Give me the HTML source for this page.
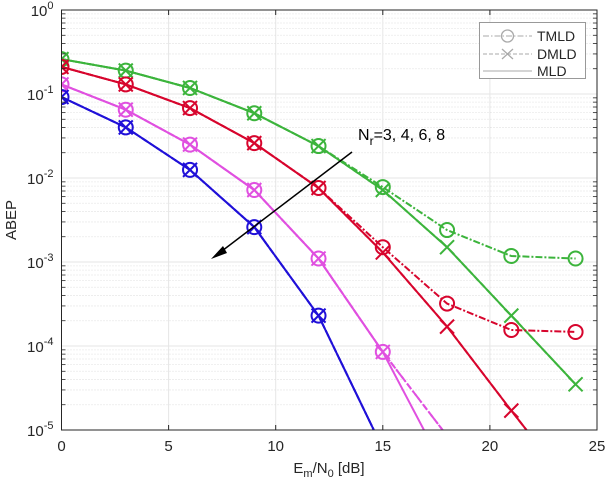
<!DOCTYPE html>
<html><head><meta charset="utf-8"><style>
html,body{margin:0;padding:0;background:#fff;}
svg text{font-family:"Liberation Sans",sans-serif;}
</style></head><body>
<svg id="chart" width="608" height="490" xmlns="http://www.w3.org/2000/svg">
<defs><clipPath id="plotclip"><rect x="61.5" y="10" width="535.5" height="420"/></clipPath></defs>
<g id="grid"></g>
<g id="series" clip-path="url(#plotclip)"></g>
<rect x="61.5" y="10" width="535.5" height="420" fill="none" stroke="#262626" stroke-width="1"/>
<g id="axes"></g>
<text x="329" y="473" font-size="15" fill="#262626" text-anchor="middle">E<tspan font-size="11" dy="4">m</tspan><tspan dy="-4">/N</tspan><tspan font-size="11" dy="4">0</tspan><tspan dy="-4"> [dB]</tspan></text>
<text transform="translate(16,220) rotate(-90)" font-size="15" fill="#262626" text-anchor="middle">ABEP</text>
<g>
<line x1="352" y1="152" x2="218" y2="254" stroke="#000" stroke-width="1.5"/>
<polygon points="211,259 223,246 227,253" fill="#000"/>
</g>
<text x="358" y="140" font-size="16" fill="#000">N<tspan font-size="12" dy="5">r</tspan><tspan dy="-5">=3, 4, 6, 8</tspan></text>
<g>
<rect x="479.5" y="22.5" width="106" height="56" fill="#fff" stroke="#999" stroke-width="1"/>
<g><line x1="483" y1="36" x2="532" y2="36" stroke="#aaa" stroke-dasharray="6,2,1.5,2"/><circle cx="507.5" cy="36" r="6" fill="none" stroke="#aaa" stroke-width="1.3"/><text x="537" y="41" font-size="14" fill="#262626">TMLD</text></g>
<g><line x1="483" y1="54" x2="532" y2="54" stroke="#aaa" stroke-dasharray="4,2"/><path d="M502,49 L513,59 M513,49 L502,59" stroke="#aaa" stroke-width="1.3"/><text x="537" y="59" font-size="14" fill="#262626">DMLD</text></g>
<g><line x1="483" y1="71" x2="532" y2="71" stroke="#aaa"/><text x="537" y="76" font-size="14" fill="#262626">MLD</text></g>
</g>
</svg>
<script>
const snr = [0, 3, 6, 9, 12, 15, 18, 21, 24];
const greenTMLD = [0.26, 0.19, 0.118, 0.059, 0.024, 0.0078, 0.0024, 0.00118, 0.0011];
const greenDMLD = [0.26, 0.19, 0.118, 0.059, 0.024, 0.0072, 0.0015, 0.00023, 0.000035];
const greenMLD  = [0.26, 0.19, 0.118, 0.059, 0.024, 0.0072, 0.0015, 0.00023, 0.000035];
const redTMLD = [0.21, 0.13, 0.068, 0.026, 0.0076, 0.0015, 0.00032, 0.000155, 0.000147];
const redDMLD = [0.21, 0.13, 0.068, 0.026, 0.0076, 0.0013, 0.00017, 0.000017, 0.0000018];
const redMLD  = [0.21, 0.13, 0.068, 0.026, 0.0076, 0.0013, 0.00017, 0.000017, 0.0000018];
const magTMLD = [0.13, 0.065, 0.025, 0.0072, 0.0011, 0.000085, 0.0000085];
const magDMLD = [0.13, 0.065, 0.025, 0.0072, 0.0011, 0.000085, 0.0000085];
const magMLD  = [0.13, 0.065, 0.025, 0.0072, 0.0011, 0.000085, 0.000003];
const blueTMLD = [0.092, 0.04, 0.0125, 0.0026, 0.00023, 0.000006];
const blueDMLD = [0.092, 0.04, 0.0125, 0.0026, 0.00023, 0.000006];
const blueMLD  = [0.092, 0.04, 0.0125, 0.0026, 0.00023, 0.000006];
const xTicks = [0, 5, 10, 15, 20, 25];
const yExps = [0, -1, -2, -3, -4, -5];

const NS = "http://www.w3.org/2000/svg";
const X0 = 61.5, X1 = 597, Y0 = 10, Y1 = 430;
function xs(v){ return X0 + (v/25)*(X1-X0); }
function ys(v){ return Y0 + (-Math.log10(v)/5)*(Y1-Y0); }
function mk(tag, attrs, parent){ const e=document.createElementNS(NS,tag); for(const k in attrs) e.setAttribute(k,attrs[k]); parent.appendChild(e); return e; }

const grid = document.getElementById('grid');
const axes = document.getElementById('axes');
for (let d=0; d<5; d++){
  for (let m=2; m<=9; m++){
    const y = ys(Math.pow(10,-d-1)*m);
    const l = mk('line',{x1:X0,x2:X1,y1:y,y2:y,stroke:'#d6d6d6','stroke-width':0.8,'stroke-dasharray':'1,2'},grid);
    
    
    const t1 = mk('line',{x1:X0,x2:X0+4,y1:y,y2:y,stroke:'#262626','stroke-width':0.8},axes);
    
    
    const t2 = mk('line',{x1:X1-4,x2:X1,y1:y,y2:y,stroke:'#262626','stroke-width':0.8},axes);
    
    
  }
}
yExps.forEach(e=>{
  const y = ys(Math.pow(10,e));
  const l = mk('line',{x1:X0,x2:X1,y1:y,y2:y,stroke:'#e6e6e6','stroke-width':1},grid);
  
  
  const t = mk('text',{x:X0-8,y:y+6,'font-size':15,fill:'#262626','text-anchor':'end'},axes);
  
  
  t.innerHTML = '10<tspan font-size="11" dy="-7">'+(e===0?'0':e)+'</tspan>';
});
xTicks.forEach(v=>{
  const x = xs(v);
  const l = mk('line',{x1:x,x2:x,y1:Y0,y2:Y1,stroke:'#e6e6e6','stroke-width':1},grid);
  
  
  const tk = mk('line',{x1:x,x2:x,y1:Y1,y2:Y1-5,stroke:'#262626'},axes);
  
  
  const tk2 = mk('line',{x1:x,x2:x,y1:Y0,y2:Y0+5,stroke:'#262626'},axes);
  
  
  const t = mk('text',{x:x,y:Y1+21,'font-size':15,fill:'#262626','text-anchor':'middle'},axes);
  
  
  t.textContent = v;
});

const seriesG = document.getElementById('series');
function drawSeries(vals, color, dash, marker, name){
  const g = mk('g',{},seriesG);
  
  
  const pts = vals.map((v,i)=>xs(snr[i]).toFixed(1)+','+ys(v).toFixed(1)).join(' ');
  const pl = mk('polyline',{points:pts,fill:'none',stroke:color,'stroke-width':2},g);
  if (dash) pl.setAttribute('stroke-dasharray',dash);
  
  
  vals.forEach((v,i)=>{
    if (v < 1e-5) return;
    const x = xs(snr[i]), y = ys(v);
    if (marker==='o'){
      const c = mk('circle',{cx:x,cy:y,r:7,fill:'none',stroke:color,'stroke-width':2},g);
      
      
    } else if (marker==='x'){
      const p = mk('path',{d:`M${x-7},${y-7}L${x+7},${y+7}M${x+7},${y-7}L${x-7},${y+7}`,stroke:color,'stroke-width':2},g);
      
      
    }
  });
}
const sets = [
  [greenMLD,greenDMLD,greenTMLD,'#3cb43c','green'],
  [redMLD,redDMLD,redTMLD,'#d7052d','red'],
  [magMLD,magDMLD,magTMLD,'#e050e0','magenta'],
  [blueMLD,blueDMLD,blueTMLD,'#2010d8','blue']
];
sets.forEach(s=>{
  drawSeries(s[0], s[3], null, null, s[4]+'-mld');
  drawSeries(s[1], s[3], '6,3', 'x', s[4]+'-dmld');
  drawSeries(s[2], s[3], '7,2,2,2', 'o', s[4]+'-tmld');
});
</script>
</body></html>
